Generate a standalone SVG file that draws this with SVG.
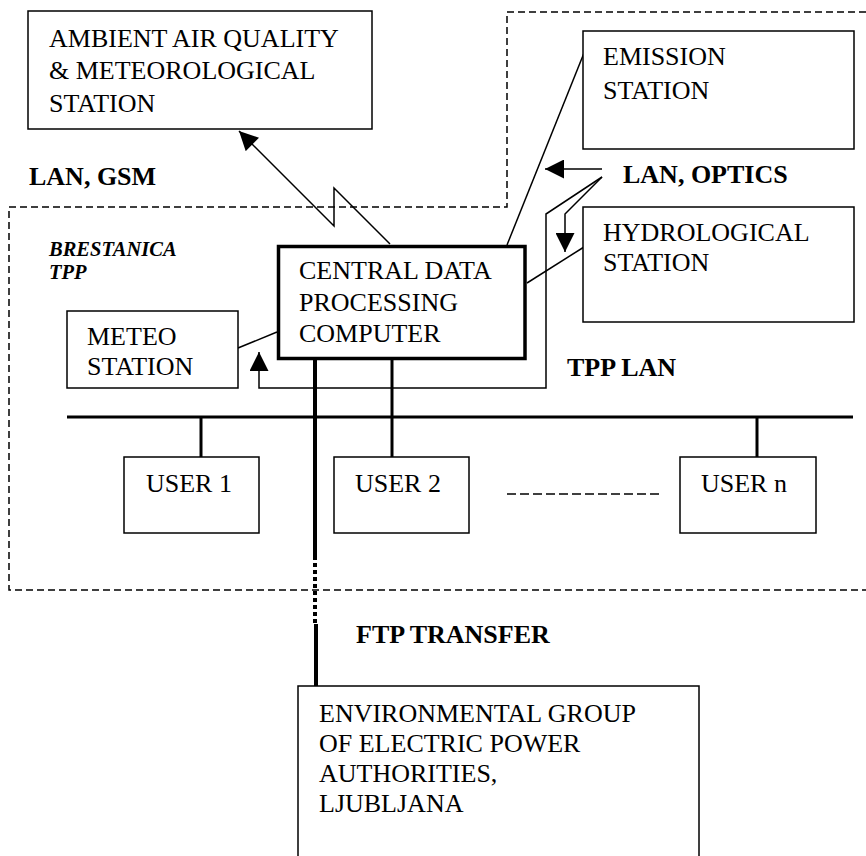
<svg xmlns="http://www.w3.org/2000/svg" width="866" height="856" viewBox="0 0 866 856">
<defs>
<marker id="ah" viewBox="0 0 20 20" refX="20" refY="10" markerWidth="20" markerHeight="19" markerUnits="userSpaceOnUse" orient="auto">
<path d="M0,0 L20,10 L0,20 z" fill="#000"/>
</marker>
<style>
.box{fill:#fff;stroke:#000;stroke-width:1.5}
.cbox{fill:#fff;stroke:#000;stroke-width:3.5}
.t{font-family:"Liberation Serif","Times New Roman",serif;font-size:26px;fill:#000}
.b{font-family:"Liberation Serif","Times New Roman",serif;font-size:26px;font-weight:bold;fill:#000}
.bi{font-family:"Liberation Serif","Times New Roman",serif;font-size:20.5px;font-weight:bold;font-style:italic;fill:#000}
.thin{fill:none;stroke:#000;stroke-width:1.5}
.thick{fill:none;stroke:#000;stroke-width:3}
.dash{fill:none;stroke:#000;stroke-width:1.5;stroke-dasharray:7 4}
</style>
</defs>
<rect width="866" height="856" fill="#fff"/>

<g id="boundary">
<path class="dash" d="M866,12 H507 V207 H9 V590 H866"/>
<text class="bi" x="49" y="256">BRESTANICA</text>
<text class="bi" x="49" y="279">TPP</text>
</g>

<g id="connectors">
<path class="thin" d="M390,244 L334,188 L334,226 L239,131" marker-end="url(#ah)"/>
<path class="thin" d="M584,53 L507,245"/>
<path class="thin" d="M527,283 L584,247"/>
<path class="thin" d="M238,348 L277,332"/>
<path class="thin" d="M602,169 H545" marker-end="url(#ah)"/>
<path class="thin" d="M602,177 L565,214 V252" marker-end="url(#ah)"/>
<path class="thin" d="M602,177 L546,214 V388 H259 V352" marker-end="url(#ah)"/>
<path class="thick" d="M67,417 H853"/>
<path class="thick" d="M201,417 V457"/>
<path class="thick" d="M392,360 V457"/>
<path class="thick" d="M757,417 V457"/>
<path fill="none" stroke="#000" stroke-width="4" d="M315,360 V556"/>
<path fill="none" stroke="#000" stroke-width="4" stroke-dasharray="4 3" d="M315,556 V623"/>
<path fill="none" stroke="#000" stroke-width="4" d="M316,624 V686"/>
<path fill="none" stroke="#000" stroke-width="1.5" stroke-dasharray="9 4" d="M507,494 H662"/>
</g>

<g id="ambient">
<rect class="box" x="28" y="11" width="344" height="118"/>
<text class="t" x="49" y="47">AMBIENT AIR QUALITY</text>
<text class="t" x="49" y="79">&amp; METEOROLOGICAL</text>
<text class="t" x="49" y="112">STATION</text>
</g>

<g id="emission">
<rect class="box" x="583" y="31" width="271" height="118"/>
<text class="t" x="603" y="65">EMISSION</text>
<text class="t" x="603" y="99">STATION</text>
</g>

<g id="hydro">
<rect class="box" x="583" y="207" width="271" height="115"/>
<text class="t" x="603" y="241">HYDROLOGICAL</text>
<text class="t" x="603" y="271">STATION</text>
</g>

<g id="central">
<rect class="cbox" x="278.5" y="246.5" width="246.5" height="112"/>
<text class="t" x="299" y="279">CENTRAL DATA</text>
<text class="t" x="299" y="311">PROCESSING</text>
<text class="t" x="299" y="342">COMPUTER</text>
</g>

<g id="meteo">
<rect class="box" x="67" y="311" width="171" height="77"/>
<text class="t" x="87" y="345">METEO</text>
<text class="t" x="87" y="375">STATION</text>
</g>

<g id="user1">
<rect class="box" x="124" y="457" width="135" height="76"/>
<text class="t" x="146" y="492">USER 1</text>
</g>

<g id="user2">
<rect class="box" x="334" y="457" width="135" height="76"/>
<text class="t" x="355" y="492">USER 2</text>
</g>

<g id="usern">
<rect class="box" x="680" y="457" width="136" height="76"/>
<text class="t" x="701" y="492">USER n</text>
</g>

<g id="environmental">
<rect class="box" x="298" y="686" width="401" height="190"/>
<text class="t" x="319" y="722">ENVIRONMENTAL GROUP</text>
<text class="t" x="319" y="752">OF ELECTRIC POWER</text>
<text class="t" x="319" y="782">AUTHORITIES,</text>
<text class="t" x="319" y="812">LJUBLJANA</text>
</g>

<g id="labels">
<text class="b" x="29" y="185">LAN, GSM</text>
<text class="b" x="623" y="183">LAN, OPTICS</text>
<text class="b" x="567" y="376">TPP LAN</text>
<text class="b" x="356" y="643">FTP TRANSFER</text>
</g>
</svg>
